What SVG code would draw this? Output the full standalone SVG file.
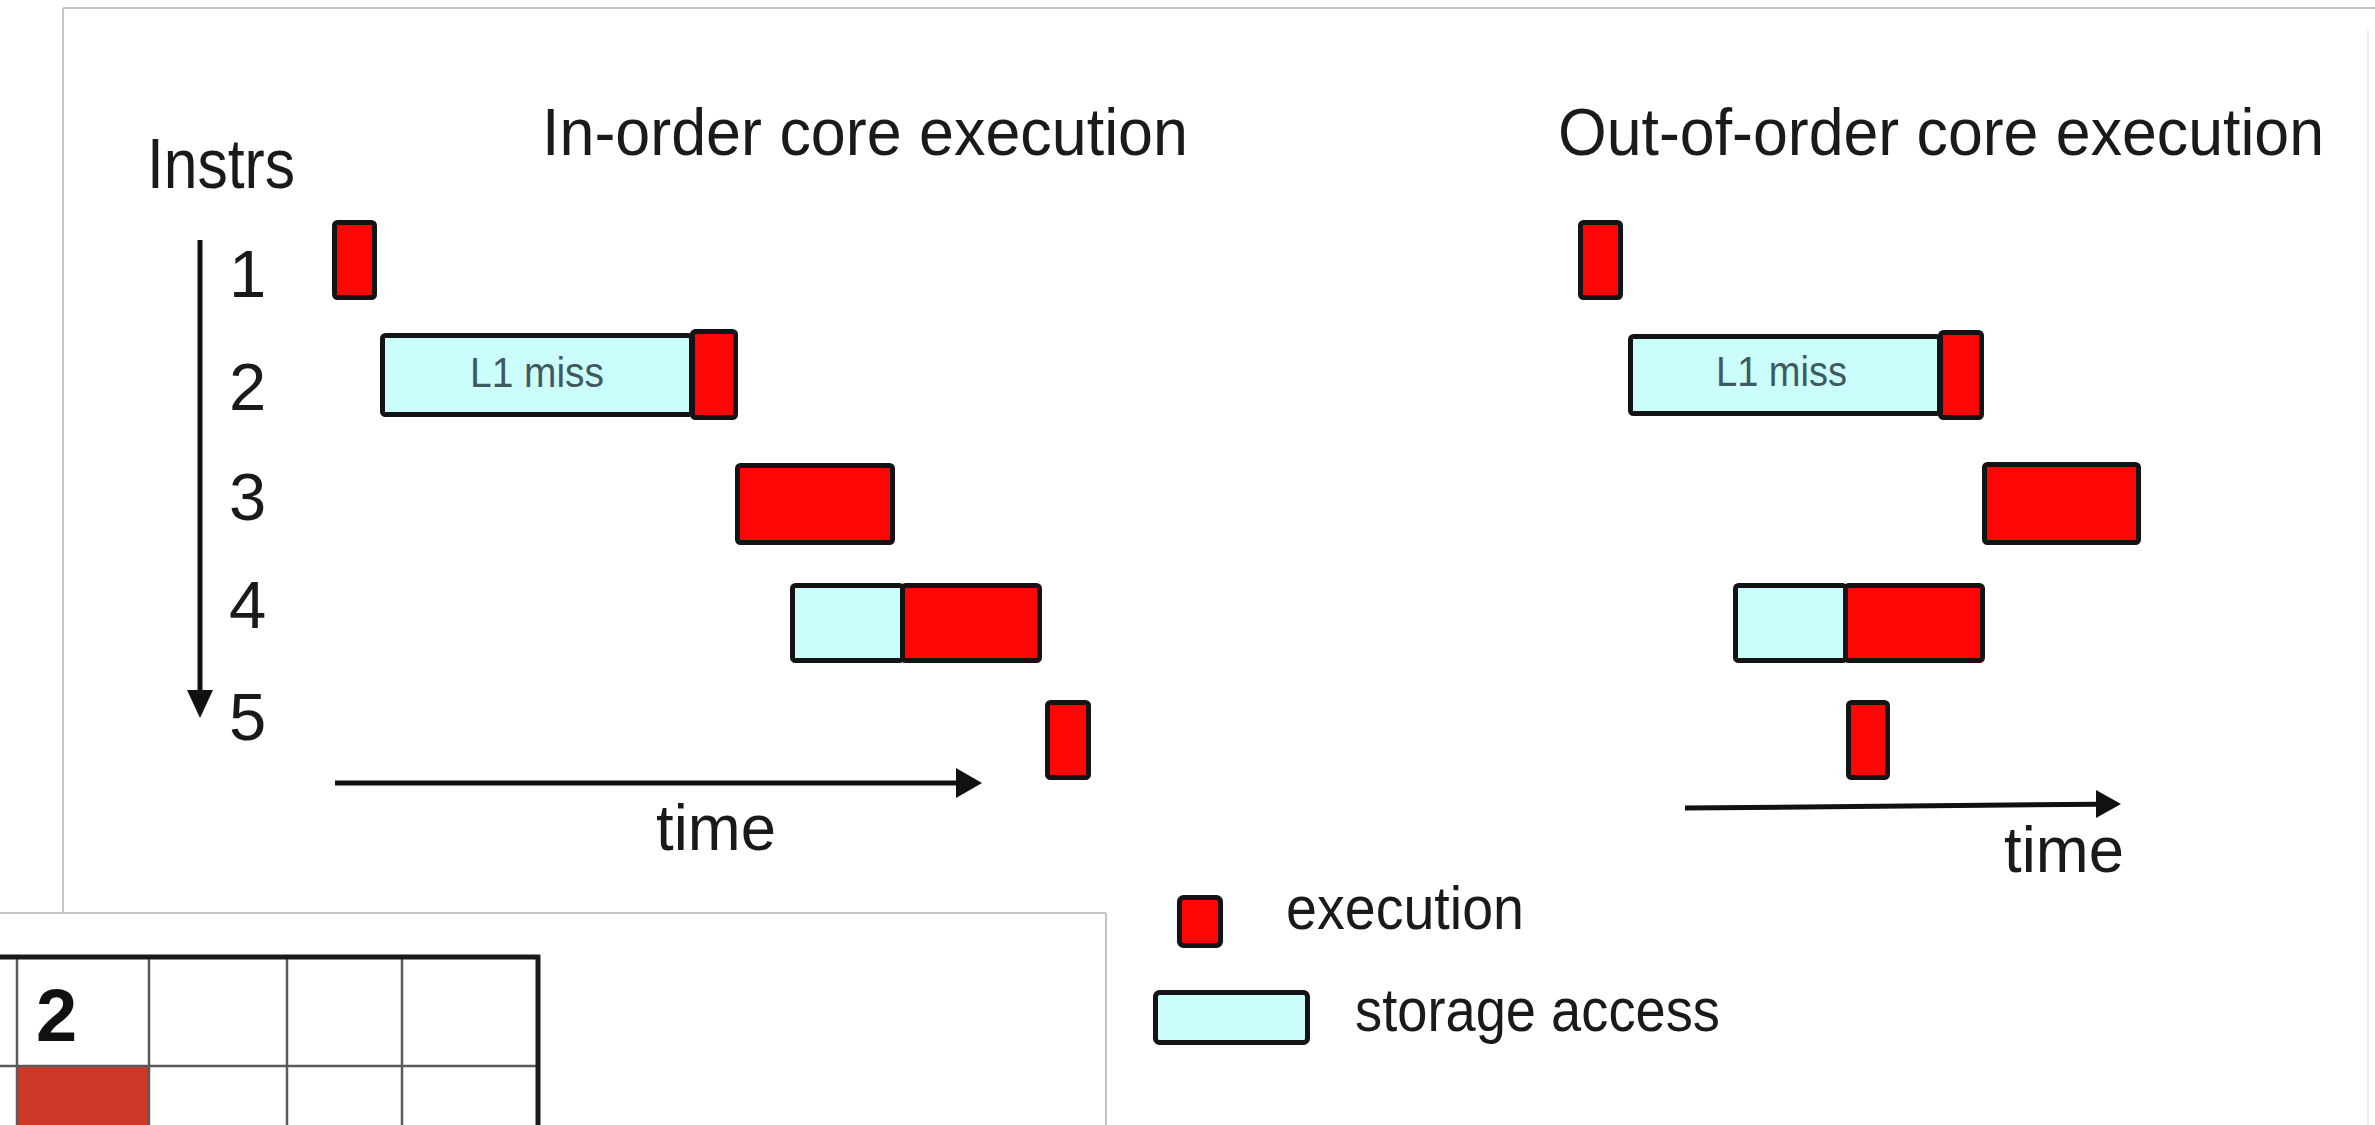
<svg xmlns="http://www.w3.org/2000/svg" width="2375" height="1125" viewBox="0 0 2375 1125">
<defs>
<style>
.t{font-family:"Liberation Sans",Arial,sans-serif;fill:#1a1a1a}
.ex{fill:#ff0606;stroke:#141414;stroke-width:5}
.st{fill:#ccfdfd;stroke:#141414;stroke-width:5}
.lbl{font-family:"Liberation Sans",Arial,sans-serif;fill:#3e5a60;font-size:42px}
.edge{stroke:#c4c4c4;stroke-width:2;fill:none}
.ax{stroke:#111;stroke-width:5;fill:none}
.grid{stroke:#5a5a5a;stroke-width:2.5;fill:none}
</style>
</defs>
<rect width="2375" height="1125" fill="#fff"/>
<g id="panel-upper">
<line class="edge" x1="63" y1="8" x2="2375" y2="8"/>
<line class="edge" x1="63" y1="8" x2="63" y2="913"/>
<line x1="2368" y1="30" x2="2368" y2="1125" stroke="#ececec" stroke-width="2"/>
</g>
<g id="titles">
<text class="t" x="147" y="188" font-size="70" textLength="148" lengthAdjust="spacingAndGlyphs">Instrs</text>
<text class="t" x="542" y="155" font-size="67" textLength="646" lengthAdjust="spacingAndGlyphs">In-order core execution</text>
<text class="t" x="1558" y="155" font-size="66" textLength="766" lengthAdjust="spacingAndGlyphs">Out-of-order core execution</text>
</g>
<g id="instr-numbers" class="t" font-size="67">
<text x="229" y="297">1</text>
<text x="229" y="410">2</text>
<text x="229" y="520">3</text>
<text x="229" y="628">4</text>
<text x="229" y="740">5</text>
</g>
<g id="connectors">
<line class="ax" x1="200" y1="240" x2="200" y2="690" stroke-width="4"/>
<path d="M187,690 L213,690 L200,718 z" fill="#111"/>
<line class="ax" x1="335" y1="783" x2="958" y2="783"/>
<path d="M956,768 L982,783 L956,798 z" fill="#111"/>
<line class="ax" x1="1685" y1="808" x2="2098" y2="804.2"/>
<path d="M2096,790 L2121,804 L2096,818 z" fill="#111"/>
</g>
<g id="inorder">
<g id="io-1"><rect class="ex" x="334.5" y="222.5" width="40" height="75" rx="3"/></g>
<g id="io-2">
<rect class="st" x="382.5" y="335.5" width="309" height="79" rx="3"/>
<rect class="ex" x="692.5" y="331.5" width="43" height="86" rx="3"/>
<text class="lbl" x="470" y="387" textLength="134" lengthAdjust="spacingAndGlyphs">L1 miss</text>
</g>
<g id="io-3"><rect class="ex" x="737.5" y="465.5" width="155" height="77" rx="3"/></g>
<g id="io-4">
<rect class="st" x="792.5" y="585.5" width="110" height="75" rx="3"/>
<rect class="ex" x="902.5" y="585.5" width="137" height="75" rx="3"/>
</g>
<g id="io-5"><rect class="ex" x="1047.5" y="702.5" width="41" height="75" rx="3"/></g>
<text class="t" x="656" y="850" font-size="64" textLength="120" lengthAdjust="spacingAndGlyphs">time</text>
</g>
<g id="outoforder">
<g id="oo-1"><rect class="ex" x="1580.5" y="222.5" width="40" height="75" rx="3"/></g>
<g id="oo-2">
<rect class="st" x="1630.5" y="336.5" width="309" height="77" rx="3"/>
<rect class="ex" x="1940.5" y="332.5" width="41" height="85" rx="3"/>
<text class="lbl" x="1716" y="386" textLength="131" lengthAdjust="spacingAndGlyphs">L1 miss</text>
</g>
<g id="oo-3"><rect class="ex" x="1984.5" y="464.5" width="154" height="78" rx="3"/></g>
<g id="oo-4">
<rect class="st" x="1735.5" y="585.5" width="110" height="75" rx="3"/>
<rect class="ex" x="1845.5" y="585.5" width="137" height="75" rx="3"/>
</g>
<g id="oo-5"><rect class="ex" x="1848.5" y="702.5" width="39" height="75" rx="3"/></g>
<text class="t" x="2004" y="872" font-size="64" textLength="120" lengthAdjust="spacingAndGlyphs">time</text>
</g>
<g id="legend">
<g id="leg-exec">
<rect class="ex" x="1179.5" y="897.5" width="41" height="48" rx="4"/>
<text class="t" x="1286" y="929" font-size="62" textLength="238" lengthAdjust="spacingAndGlyphs">execution</text>
</g>
<g id="leg-storage">
<rect class="st" x="1155.5" y="992.5" width="152" height="50" rx="4"/>
<text class="t" x="1355" y="1031" font-size="62" textLength="365" lengthAdjust="spacingAndGlyphs">storage access</text>
</g>
</g>
<g id="panel-lower">
<rect x="0" y="913" width="1106" height="212" fill="#fff"/>
<line class="edge" x1="0" y1="913" x2="1106" y2="913"/>
<line class="edge" x1="1106" y1="913" x2="1106" y2="1125"/>
<rect x="17" y="1066" width="132" height="59" fill="#cf3826"/>
<line class="grid" x1="0" y1="1066" x2="538" y2="1066"/>
<line class="grid" x1="17" y1="957" x2="17" y2="1125"/>
<line class="grid" x1="149" y1="957" x2="149" y2="1125"/>
<line class="grid" x1="287" y1="957" x2="287" y2="1125"/>
<line class="grid" x1="402" y1="957" x2="402" y2="1125"/>
<line x1="0" y1="957" x2="540" y2="957" stroke="#1a1a1a" stroke-width="5"/>
<line x1="538" y1="955" x2="538" y2="1125" stroke="#1a1a1a" stroke-width="5"/>
<text x="36" y="1041" font-family="Liberation Sans, Arial, sans-serif" font-weight="bold" font-size="74" fill="#111">2</text>
</g>
</svg>
